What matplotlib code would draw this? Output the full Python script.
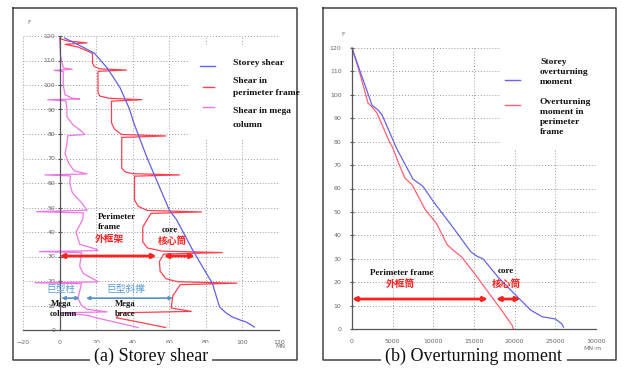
import matplotlib.pyplot as plt
from matplotlib.lines import Line2D

# ---- (a) storey shear data (MN vs floor) ----
storey_shear = [2.7, 10, 19, 26, 33, 38, 41, 43.7, 48, 52, 56, 60, 64, 72.8, 78, 83.6, 86, 87.5, 91, 94.5, 99, 102, 104.5, 106.5]
storey_floor = [119.2, 116.5, 113, 107, 99, 90.6, 83.7, 78.4, 70, 63, 56, 49, 45, 32.6, 26, 19, 13, 9.4, 7, 5.3, 4, 3.3, 2.2, 1.2]

frame_shear = [0, 4, 15, 3, 10, 18, 18, 19, 22, 36.6, 21, 21, 22, 27, 45, 28.4, 28.4, 30, 34, 58, 34, 34, 36, 40,
               65.6, 41, 41, 43, 48, 77.6, 50, 45.5, 45.5, 48, 56, 89, 57, 54.6, 55, 58, 64.5, 97, 66, 62, 61, 72,
               33, 31, 45, 58]
frame_floor = [119, 118, 117.2, 116.6, 115.5, 113, 109, 107.5, 106.6, 106.1, 105.6, 97, 95.5, 94.6, 94, 93.4, 84.5,
               82, 79.8, 79.2, 78.6, 66, 64.5, 63.8, 63.3, 62.8, 53, 50.5, 48.8, 48.2, 47.6, 42, 36, 33.5, 32.2, 31.6,
               31, 28, 24, 21, 19.7, 19.1, 18.5, 14, 9, 7.6, 7.0, 5, 3, 1]

column_shear = [0, 0.5, 2, 7, -3, 2, 2, 3, 7, 11, -6.5, 3.5, 4, 4, 7, 13, 13.6, 4.5, 4, 3, 5, 8, 15, -8, 6, 5.5, 7,
                12, 15, -12.6, 13, 12.6, 9, 11, 20, 21, -11, 12, 11, 13, 20, 21, -13.6, 12, 10, 12, 15, 26, 1, 15,
                20, 43]
column_floor = [119, 112, 107, 106.4, 106, 105.5, 100, 96, 94.6, 94.3, 94, 93.5, 90, 87, 84, 80.5, 79.8, 79.3, 76,
                72, 68, 65, 63.7, 63.3, 62.9, 60, 56, 52, 48.9, 48.3, 47.8, 45, 40, 35, 33, 32.4, 32, 31.6, 26, 23,
                20.2, 19.6, 19.3, 18.9, 13, 10, 8.5, 7.4, 7, 6, 5, 1]

# ---- (b) overturning moment data (MN·m vs floor) ----
storey_moment = [0, 1000, 2460, 3200, 3700, 5500, 7500, 8700, 10100, 12500, 14600, 15400, 16100, 18000, 20400,
                 22000, 23400, 25000, 25800, 26000]
storey_m_floor = [120, 110, 95.6, 93.5, 91.4, 77, 64, 61, 54, 43, 33, 31, 30, 22, 13.5, 8, 5.2, 4.3, 2.2, 0.8]

frame_moment = [0, 900, 1970, 2580, 3070, 4670, 5000, 5700, 6500, 7400, 9000, 10400, 11700, 12500, 13500, 15000,
                16900, 18500, 19700, 19850]
frame_m_floor = [120, 110, 96.5, 94.4, 92.2, 79.4, 77.5, 71, 64.5, 61.5, 51, 45, 36, 33.5, 30.7, 24, 15, 7.5, 1.5, 0]

shear_ticks = [-20, 0, 20, 40, 60, 80, 100, 120]
moment_ticks = [0, 5000, 10000, 15000, 20000, 25000, 30000]
floor_ticks = list(range(0, 121, 10))

W, H = 627, 370
SERIF = "Liberation Serif"
CJK = ["Noto Sans CJK SC", "DejaVu Sans"]


def P(x, y):
    return x / W, 1 - y / H


fig = plt.figure(figsize=(6.27, 3.70), dpi=100)


def style_axes(ax, xticks, pad_y):
    ax.set_ylim(0, 120)
    ax.set_xticks(xticks)
    ax.set_yticks(floor_ticks)
    ax.spines["top"].set_visible(False)
    ax.spines["right"].set_visible(False)
    for s in ("left", "bottom"):
        ax.spines[s].set_color("#555555")
        ax.spines[s].set_linewidth(0.9)
    ax.grid(True, color="#999999", linestyle=(0, (1, 2)), linewidth=0.7)
    ax.tick_params(axis="x", length=0, pad=7, labelsize=4.5, labelcolor="#666666")
    ax.tick_params(axis="y", length=3, direction="inout", pad=pad_y, labelsize=4.5,
                   labelcolor="#666666", color="#555555")
    ax.set_facecolor("none")


# ---------- left panel ----------
axL = fig.add_axes([23 / W, 40 / H, 256 / W, 294 / H])
axL.set_xlim(-20, 120)
style_axes(axL, shear_ticks, 1.5)
axL.spines["left"].set_position(("data", 0))
axL.plot(column_shear, column_floor, color="#ee77e6", lw=0.9, clip_on=False)
axL.plot(frame_shear, frame_floor, color="#ff4050", lw=0.9, clip_on=False)
axL.plot(storey_shear, storey_floor, color="#6060e8", lw=0.9, clip_on=False)

bold = dict(family=SERIF, weight="bold", fontsize=6.5, color="#111111")
axL.text(20.8, 46.1, "Perimeter", ha="left", va="center", **bold)
axL.text(20.8, 42.0, "frame", ha="left", va="center", **bold)
axL.text(19, 37.3, "外框架", ha="left", va="center", family=CJK, weight="bold", fontsize=7, color="#ff2020")
axL.text(55.7, 40.8, "core", ha="left", va="center", **bold)
axL.text(53.5, 36.2, "核心筒", ha="left", va="center", family=CJK, weight="bold", fontsize=7, color="#ff2020")
red_arrow = dict(arrowstyle="<|-|>", color="#ff2020", lw=2.0, mutation_scale=6, shrinkA=0, shrinkB=0)
axL.annotate("", xy=(53, 30.2), xytext=(0, 30.2), arrowprops=red_arrow)
axL.annotate("", xy=(74, 30.2), xytext=(57, 30.2), arrowprops=red_arrow)

axL.text(-7, 16.9, "巨型柱", ha="left", va="center", family=CJK, fontsize=7, color="#5b9bd5")
axL.text(25.7, 16.9, "巨型斜撑", ha="left", va="center", family=CJK, fontsize=7, color="#5b9bd5")
blue_arrow = dict(arrowstyle="<|-|>", color="#5b8fc8", lw=1.2, mutation_scale=5, shrinkA=0, shrinkB=0)
axL.annotate("", xy=(11, 13), xytext=(1, 13), arrowprops=blue_arrow)
axL.annotate("", xy=(62, 13), xytext=(14.5, 13), arrowprops=blue_arrow)
small_bold = dict(bold, fontsize=6.2)
axL.text(-4.5, 10.8, "Mega", ha="left", va="center", **small_bold)
axL.text(-5.5, 6.7, "column", ha="left", va="center", **small_bold)
axL.text(30, 10.8, "Mega", ha="left", va="center", **small_bold)
axL.text(30, 6.7, "brace", ha="left", va="center", **small_bold)

# ---------- right panel ----------
axR = fig.add_axes([352 / W, 41 / H, 244 / W, 281 / H])
axR.set_xlim(0, 30000)
style_axes(axR, moment_ticks, 6)
axR.plot(frame_moment, frame_m_floor, color="#ff6070", lw=0.9, clip_on=False)
axR.plot(storey_moment, storey_m_floor, color="#6464ea", lw=0.9, clip_on=False)

axR.text(2210, 23.9, "Perimeter frame", ha="left", va="center", **bold)
axR.text(4180, 19.2, "外框筒", ha="left", va="center", family=CJK, weight="bold", fontsize=7, color="#ff2020")
axR.text(17950, 24.8, "core", ha="left", va="center", **bold)
axR.text(17200, 19.2, "核心筒", ha="left", va="center", family=CJK, weight="bold", fontsize=7, color="#ff2020")
axR.annotate("", xy=(16700, 12.8), xytext=(0, 12.8), arrowprops=red_arrow)
axR.annotate("", xy=(20700, 12.8), xytext=(17700, 12.8), arrowprops=red_arrow)

# ---------- legends (white boxes hiding the grid) ----------
fig.add_artist(plt.Rectangle(P(190, 140), 110 / W, 95 / H, transform=fig.transFigure,
                             facecolor="white", edgecolor="none", zorder=2))
fig.add_artist(plt.Rectangle(P(500, 150), 122 / W, 110 / H, transform=fig.transFigure,
                             facecolor="white", edgecolor="none", zorder=2))

leg = dict(family=SERIF, weight="bold", fontsize=6.8, color="#111111", ha="left", va="center", zorder=3)


def leg_line(x0, x1, y, color):
    (a, b), (c, _) = P(x0, y), P(x1, y)
    fig.add_artist(Line2D([a, c], [b, b], transform=fig.transFigure, color=color, lw=1.0, zorder=3))


leg_line(200, 215, 66, "#6060e8")
leg_line(203, 214, 87, "#ff4050")
leg_line(203, 214, 107, "#ee77e6")
for txt, y in [("Storey shear", 63), ("Shear in", 81), ("perimeter frame", 93), ("Shear in mega", 111),
               ("column", 125)]:
    fig.text(*P(233, y), txt, **leg)

leg_line(505, 520, 80, "#6464ea")
leg_line(505, 520, 105, "#ff6070")
for txt, y in [("Storey", 62), ("overturning", 72), ("moment", 82), ("Overturning", 102), ("moment in", 112),
               ("perimeter", 122), ("frame", 132)]:
    fig.text(*P(540, y), txt, **leg)

# ---------- axis unit / floor labels ----------
small = dict(fontsize=4.5, color="#777777", ha="center", va="center")
fig.text(*P(29, 23), "F", **small)
fig.text(*P(343, 35), "F", **small)
fig.text(*P(280, 347), "MN", **small)
fig.text(*P(592, 348), "MN·m", **small)

# ---------- outer frames with captions ----------
def frame(x0, x1, y0, y1):
    xs = [x0, x1, x1, x0, x0]
    ys = [y0, y0, y1, y1, y0]
    fig.add_artist(Line2D([x / W for x in xs], [1 - y / H for y in ys], transform=fig.transFigure,
                          color="#444444", lw=1.1, zorder=2))


frame(13, 297, 8, 360)
frame(323, 616, 8, 360)
cap = dict(family=SERIF, fontsize=13, color="#111111", ha="center", va="center", zorder=4,
           bbox=dict(facecolor="white", edgecolor="none", pad=3))
fig.text(*P(151, 356), "(a) Storey shear", **cap)
fig.text(*P(474, 356), "(b) Overturning moment", **cap)

fig.savefig("out.png", dpi=100, facecolor="white")
